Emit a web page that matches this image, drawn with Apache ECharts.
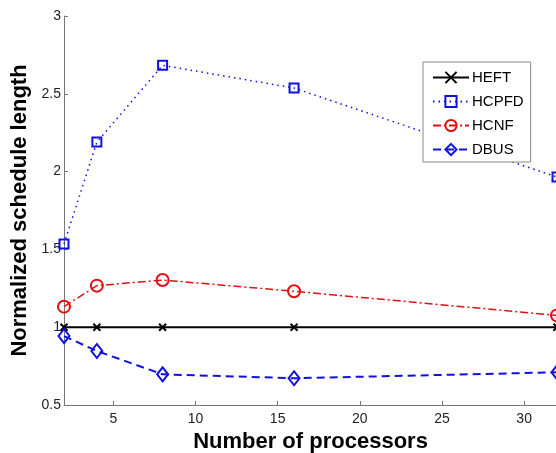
<!DOCTYPE html>
<html><head><meta charset="utf-8">
<script src="https://cdn.jsdelivr.net/npm/echarts@6/dist/echarts.min.js"></script>
<style>html,body{margin:0;padding:0;background:#fff}#c{width:556px;height:453px}</style>
</head><body><div id="c"></div>
<script>
var processors = [2, 4, 8, 16, 32];
var heft  = [1, 1, 1, 1, 1];
var hcpfd = [1.535, 2.19, 2.683, 2.537, 1.965];
var hcnf  = [1.132, 1.267, 1.303, 1.231, 1.076];
var dbus  = [0.943, 0.847, 0.697, 0.672, 0.71];
var xTicks = [5, 10, 15, 20, 25, 30];
var yTicks = [0.5, 1, 1.5, 2, 2.5, 3];

function pairs(v){ return processors.map(function(x,i){ return [x, v[i]]; }); }
var FONT = 'Liberation Sans, Arial, sans-serif';
var clear = 'rgba(0,0,0,0)';
var crossPath = 'path://M0,0L10,10M10,0L0,10';

var chart = echarts.init(document.getElementById('c'), null, {renderer:'canvas'});
chart.setOption({
  animation:false,
  backgroundColor:'#fff',
  grid:{left:64, top:16, width:493, height:389, containLabel:false, outerBoundsMode:'none'},
  xAxis:{
    type:'value', min:2, max:32,
    name:'Number of processors', nameLocation:'middle', nameGap:21,
    nameTextStyle:{fontFamily:FONT, fontWeight:'bold', fontSize:22, color:'#000'},
    axisLine:{show:true, lineStyle:{color:'#777', width:1}},
    axisTick:{show:true, inside:true, length:4, customValues:xTicks, lineStyle:{color:'#777'}},
    axisLabel:{customValues:xTicks, margin:7, fontFamily:FONT, fontSize:14, color:'#222'},
    splitLine:{show:false}
  },
  yAxis:{
    type:'value', min:0.5, max:3,
    name:'Normalized schedule length', nameLocation:'middle', nameGap:28, nameRotate:90,
    nameTextStyle:{fontFamily:FONT, fontWeight:'bold', fontSize:22, color:'#000'},
    axisLine:{show:true, lineStyle:{color:'#777', width:1}},
    axisTick:{show:true, inside:true, length:4, customValues:yTicks, lineStyle:{color:'#777'}},
    axisLabel:{customValues:yTicks, margin:3, fontFamily:FONT, fontSize:14, color:'#222'},
    splitLine:{show:false}
  },
  legend:{
    left:423, top:62, orient:'vertical',
    backgroundColor:'#fff', borderColor:'#888', borderWidth:1, borderRadius:0,
    padding:[8,7,5,9], itemWidth:36, itemHeight:14, itemGap:9,
    textStyle:{fontFamily:FONT, fontSize:15, color:'#000', padding:[0,0,0,-2]},
    data:['HEFT','HCPFD','HCNF','DBUS']
  },
  series:[
    {name:'HEFT', type:'line', data:pairs(heft), symbol:crossPath, symbolSize:7,
     lineStyle:{color:'#000', width:2, type:'solid'},
     itemStyle:{color:'#000', borderColor:'#000', borderWidth:2}, z:3},
    {name:'HCPFD', type:'line', data:pairs(hcpfd), symbol:'rect', symbolSize:9,
     lineStyle:{color:'#1010e0', width:1.5, type:[1.5,4]},
     itemStyle:{color:clear, borderColor:'#1010e0', borderWidth:2}},
    {name:'HCNF', type:'line', data:pairs(hcnf), symbol:'circle', symbolSize:12,
     lineStyle:{color:'#e01010', width:1.5, type:[8,3,2,3]},
     itemStyle:{color:clear, borderColor:'#e01010', borderWidth:2}},
    {name:'DBUS', type:'line', data:pairs(dbus), symbol:'diamond', symbolSize:[11,14],
     lineStyle:{color:'#1010e0', width:2, type:[8,5]},
     itemStyle:{color:clear, borderColor:'#1010e0', borderWidth:2}}
  ]
});
</script></body></html>
